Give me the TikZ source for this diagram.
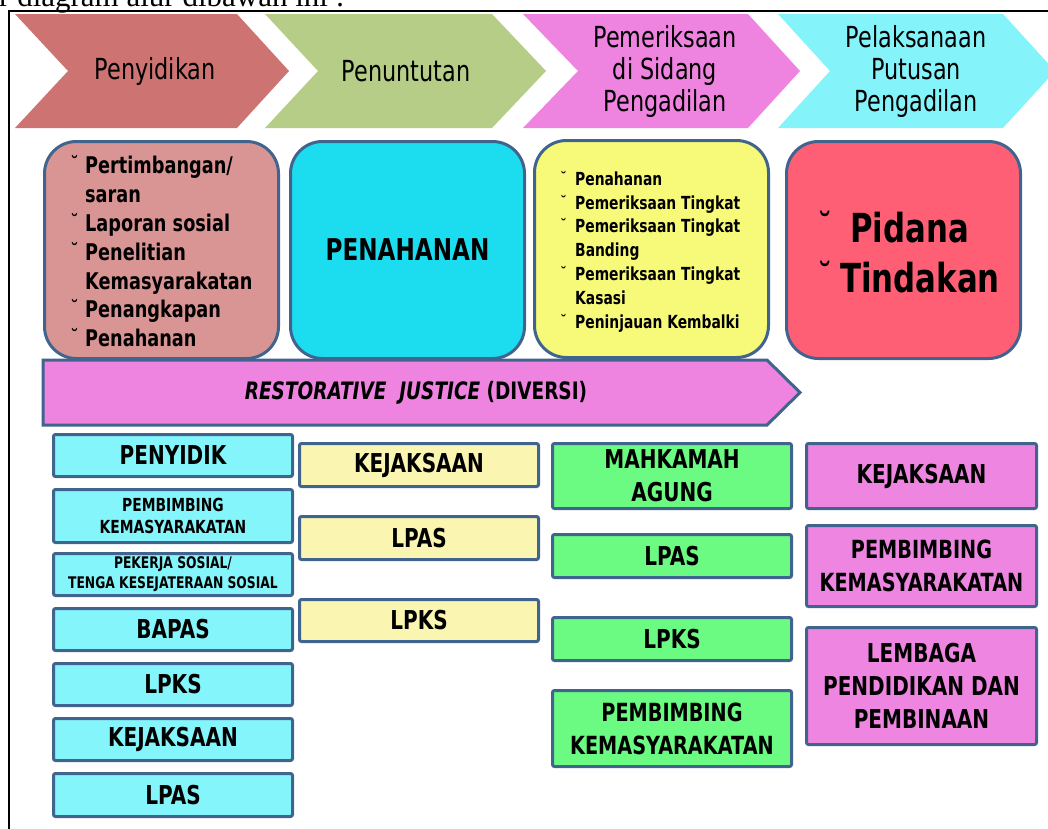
\documentclass[tikz,border=0pt]{standalone}
\usepackage{fontspec}
\setmainfont{Liberation Serif}
\newfontfamily\dvs[FakeStretch=0.77]{DejaVu Sans}
\definecolor{chA}{HTML}{CD7371}
\definecolor{chB}{HTML}{B6CD88}
\definecolor{chC}{HTML}{EE83E0}
\definecolor{chD}{HTML}{84F4FA}
\definecolor{bxA}{HTML}{D99594}
\definecolor{bxB}{HTML}{1CDDF0}
\definecolor{bxC}{HTML}{F7F978}
\definecolor{bxD}{HTML}{FF5F75}
\definecolor{rjc}{HTML}{EE84E0}
\definecolor{bord}{HTML}{41648F}
\definecolor{cA}{HTML}{84F5FA}
\definecolor{cB}{HTML}{FAF5B0}
\definecolor{cC}{HTML}{6BFB83}
\definecolor{cD}{HTML}{EE85E0}
\newcommand\bul[1]{\makebox[#1][l]{\mdseries ˘}}
\begin{document}
\begin{tikzpicture}[x=1pt,y=-1pt,
  chevtxt/.style={font=\dvs\fontsize{29}{32}\selectfont, align=center, inner sep=0pt},
  rbox/.style={draw=bord, line width=3pt, rounded corners=32pt, minimum width=234pt, minimum height=217pt, inner sep=0pt},
  listtxt/.style={anchor=west, align=left, inner sep=0pt, font=\dvs\bfseries},
  sbox/.style={draw=bord, line width=3pt, rounded corners=2pt, inner sep=0pt, align=center, minimum width=239pt, font=\dvs\bfseries\fontsize{26}{33}\selectfont},
]
\useasboundingbox (0,0) rectangle (1048,828);
% intro text and frame
\node[anchor=base west, inner sep=0pt, font=\fontsize{31}{35}\selectfont] (intro) at (-1,6) {r diagram alur dibawah ini :};
\draw[line width=2pt] (9,840) -- (9,11) -- (1060,11);
% chevrons
\fill[chA] (15,14) -- (237,14) -- (289,71) -- (237,128) -- (15,128) -- (68,71) -- cycle;
\fill[chB] (265,14) -- (492,14) -- (546,71) -- (492,128) -- (265,128) -- (318,71) -- cycle;
\fill[chC] (523,14) -- (748,14) -- (800,71) -- (748,128) -- (523,128) -- (578,71) -- cycle;
\fill[chD] (778,14) -- (1003,14) -- (1055,71) -- (1003,128) -- (778,128) -- (830,71) -- cycle;
\node[chevtxt] (c1) at (155,71) {Penyidikan};
\node[chevtxt] (c2) at (406,71) {Penuntutan};
\node[chevtxt] (c3) at (665,71) {Pemeriksaan\\di Sidang\\Pengadilan};
\node[chevtxt] (c4) at (916,71) {Pelaksanaan\\Putusan\\Pengadilan};
% rounded boxes
\node[rbox, fill=bxA] (b1) at (161.5,250) {};
\node[rbox, fill=bxB, font=\dvs\bfseries\fontsize{30}{34}\selectfont] (b2) at (407.5,250) {PENAHANAN};
\node[rbox, fill=bxC] (b3) at (651.5,249) {};
\node[rbox, fill=bxD] (b4) at (903.5,250) {};
\node[listtxt, font=\dvs\bfseries\fontsize{23}{28.8}\selectfont] (t1) at (70,251.5)
  {\bul{15pt}Pertimbangan/\\ \hspace*{15pt}saran\\ \bul{15pt}Laporan sosial\\ \bul{15pt}Penelitian\\ \hspace*{15pt}Kemasyarakatan\\ \bul{15pt}Penangkapan\\ \bul{15pt}Penahanan};
\node[listtxt, font=\dvs\bfseries\fontsize{18}{23.8}\selectfont] (t3) at (560,251.5)
  {\bul{15pt}Penahanan\\ \bul{15pt}Pemeriksaan Tingkat\\ \bul{15pt}Pemeriksaan Tingkat\\ \hspace*{15pt}Banding\\ \bul{15pt}Pemeriksaan Tingkat\\ \hspace*{15pt}Kasasi\\ \bul{15pt}Peninjauan Kembalki};
\node[listtxt, font=\dvs\bfseries\fontsize{40}{50}\selectfont] (t4) at (817,252)
  {\bul{33pt}Pidana\\ \bul{23pt}Tindakan};
% restorative justice arrow
\draw[bord, line width=3pt, fill=rjc, line join=miter] (43,360) -- (767,360) -- (800,392.5) -- (767,425) -- (43,425) -- cycle;
\node[font=\dvs\bfseries\fontsize{24}{28}\selectfont, inner sep=0pt] (rj) at (416,393) {\textit{RESTORATIVE\ \ JUSTICE} (DIVERSI)};
% column 1
\node[sbox, fill=cA, minimum height=42pt] (a1) at (173,455.5) {PENYIDIK};
\node[sbox, fill=cA, minimum height=53pt, font=\dvs\bfseries\fontsize{18}{22}\selectfont] (a2) at (173,516) {PEMBIMBING\\KEMASYARAKATAN};
\node[sbox, fill=cA, minimum height=42pt, font=\dvs\bfseries\fontsize{16}{20}\selectfont] (a3) at (173,574.5) {PEKERJA SOSIAL/\\TENGA KESEJATERAAN SOSIAL};
\node[sbox, fill=cA, minimum height=42pt] (a4) at (173,629.5) {BAPAS};
\node[sbox, fill=cA, minimum height=42pt] (a5) at (173,684.5) {LPKS};
\node[sbox, fill=cA, minimum height=42pt] (a6) at (173,739.5) {KEJAKSAAN};
\node[sbox, fill=cA, minimum height=43pt] (a7) at (173,795) {LPAS};
% column 2
\node[sbox, fill=cB, minimum height=43pt] (k1) at (419,465) {KEJAKSAAN};
\node[sbox, fill=cB, minimum height=43pt] (k2) at (419,538) {LPAS};
\node[sbox, fill=cB, minimum height=42pt] (k3) at (419,620.5) {LPKS};
% column 3
\node[sbox, fill=cC, minimum height=65pt] (m1) at (672,476) {MAHKAMAH\\AGUNG};
\node[sbox, fill=cC, minimum height=43pt] (m2) at (672,556) {LPAS};
\node[sbox, fill=cC, minimum height=43pt] (m3) at (672,639) {LPKS};
\node[sbox, fill=cC, minimum height=76pt, font=\dvs\bfseries\fontsize{25}{33}\selectfont] (m4) at (672,728.5) {PEMBIMBING\\KEMASYARAKATAN};
% column 4
\node[sbox, fill=cD, minimum width=230pt, minimum height=65pt] (p1) at (921.5,476) {KEJAKSAAN};
\node[sbox, fill=cD, minimum width=230pt, minimum height=81pt, font=\dvs\bfseries\fontsize{25}{33}\selectfont] (p2) at (921.5,566) {PEMBIMBING\\KEMASYARAKATAN};
\node[sbox, fill=cD, minimum width=230pt, minimum height=117pt] (p3) at (921.5,686) {LEMBAGA\\PENDIDIKAN DAN\\PEMBINAAN};
\end{tikzpicture}
\end{document}
